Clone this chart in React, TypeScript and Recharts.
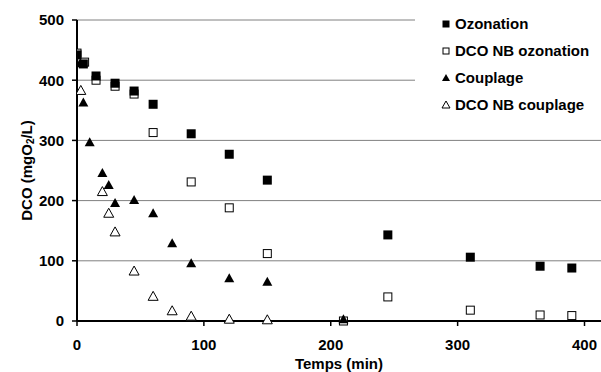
import { ScatterChart, Scatter, XAxis, YAxis, CartesianGrid, Legend } from "recharts";

// Temps (min) / DCO (mgO2/L)
const OZ_T = [0, 5, 15, 30, 45, 60, 90, 120, 150, 245, 310, 365, 390];
const OZ_DCO = [442, 427, 407, 395, 382, 360, 311, 277, 234, 143, 106, 91, 88];
const NBOZ_T = [0, 6, 15, 30, 45, 60, 90, 120, 150, 210, 245, 310, 365, 390];
const NBOZ_DCO = [445, 430, 400, 390, 377, 313, 231, 188, 112, 0, 40, 18, 10, 9];
const CP_T = [0, 5, 10, 20, 25, 30, 45, 60, 75, 90, 120, 150, 210];
const CP_DCO = [428, 363, 297, 246, 226, 196, 201, 179, 129, 96, 71, 65, 3];
const NBCP_T = [3, 20, 25, 30, 45, 60, 75, 90, 120, 150];
const NBCP_DCO = [383, 215, 179, 148, 83, 41, 17, 8, 3, 2];

const X_TICKS = [0, 100, 200, 300, 400];
const Y_TICKS = [0, 100, 200, 300, 400, 500];

const FONT = "'Liberation Sans', Arial, sans-serif";

const toPoints = (t: number[], v: number[]) => t.map((x, i) => ({ t: x, v: v[i] }));

type Kind = "square" | "openSquare" | "triangle" | "openTriangle";

const SERIES: { name: string; kind: Kind; data: { t: number; v: number }[] }[] = [
  { name: "Ozonation", kind: "square", data: toPoints(OZ_T, OZ_DCO) },
  { name: "DCO NB ozonation", kind: "openSquare", data: toPoints(NBOZ_T, NBOZ_DCO) },
  { name: "Couplage", kind: "triangle", data: toPoints(CP_T, CP_DCO) },
  { name: "DCO NB couplage", kind: "openTriangle", data: toPoints(NBCP_T, NBCP_DCO) },
];

// draw the open markers first so the filled ones sit on top
const DRAW_ORDER = [3, 1, 2, 0];

function Marker({ cx, cy, kind, r = 4.5 }: { cx: number; cy: number; kind: Kind; r?: number }) {
  if (kind === "square") {
    return <rect x={cx - r} y={cy - r} width={r * 2} height={r * 2} fill="#000" />;
  }
  if (kind === "openSquare") {
    return (
      <rect x={cx - r + 0.5} y={cy - r + 0.5} width={r * 2 - 1} height={r * 2 - 1} fill="#fff" stroke="#000" strokeWidth={1} />
    );
  }
  const pts = `${cx},${cy - r - 0.5} ${cx + r + 0.5},${cy + r - 0.5} ${cx - r - 0.5},${cy + r - 0.5}`;
  if (kind === "triangle") return <polygon points={pts} fill="#000" />;
  return <polygon points={pts} fill="#fff" stroke="#000" strokeWidth={1} />;
}

function LegendBox() {
  return (
    <div style={{ background: "#fff", width: 186, height: 116, paddingTop: 10, boxSizing: "border-box" }}>
      {SERIES.map((s) => (
        <div key={s.name} style={{ display: "flex", alignItems: "center", height: 27, fontFamily: FONT, fontWeight: 700, fontSize: 15, color: "#000" }}>
          <svg width={40} height={14}>
            <Marker cx={31} cy={7} kind={s.kind} r={3.5} />
          </svg>
          <span>{s.name}</span>
        </div>
      ))}
    </div>
  );
}

const tickStyle = { fontSize: 15, fontWeight: 700, fill: "#000", fontFamily: FONT };

export default function App() {
  return (
    <div style={{ position: "fixed", left: 0, top: 0, width: 601, height: 372, background: "#fff", fontFamily: FONT }}>
      <ScatterChart width={601} height={372} margin={{ top: 20, right: 0, bottom: 0, left: 0 }}>
        <CartesianGrid vertical={false} stroke="#808080" strokeWidth={1} />
        <XAxis
          type="number"
          dataKey="t"
          domain={[0, 413]}
          ticks={X_TICKS}
          height={51}
          tick={tickStyle}
          tickSize={5}
          tickMargin={13}
          axisLine={{ stroke: "#000", strokeWidth: 2 }}
          tickLine={{ stroke: "#000", strokeWidth: 1.5 }}
          allowDataOverflow
          label={{
            value: "Temps (min)",
            position: "insideBottom",
            offset: 3,
            style: { fontSize: 15, fontWeight: 700, fill: "#000", fontFamily: FONT },
          }}
        />
        <YAxis
          type="number"
          dataKey="v"
          domain={[0, 500]}
          ticks={Y_TICKS}
          width={77}
          tick={tickStyle}
          tickSize={5}
          tickMargin={8}
          axisLine={{ stroke: "#000", strokeWidth: 2 }}
          tickLine={{ stroke: "#000", strokeWidth: 1.5 }}
          label={{
            content: (props: any) => {
              const vb = props.viewBox || { y: 20, height: 301 };
              const cy = vb.y + vb.height / 2;
              const cx = 26;
              return (
                <text
                  x={cx}
                  y={cy}
                  transform={`rotate(-90 ${cx} ${cy})`}
                  textAnchor="middle"
                  dominantBaseline="central"
                  style={{ fontSize: 15, fontWeight: 700, fill: "#000", fontFamily: FONT }}
                >
                  DCO (mgO
                  <tspan fontSize={10} dy={4}>2</tspan>
                  <tspan dy={-4}>/L)</tspan>
                </text>
              );
            },
          }}
        />
        <Legend
          layout="horizontal"
          align="center"
          verticalAlign="middle"
          content={() => <LegendBox />}
          wrapperStyle={{ position: "absolute", top: 0, left: 415, width: 186, height: 116, margin: 0 }}
        />
        {DRAW_ORDER.map((i) => {
          const s = SERIES[i];
          return (
            <Scatter
              key={s.name}
              name={s.name}
              data={s.data}
              isAnimationActive={false}
              shape={(p: any) => <Marker cx={p.cx} cy={p.cy} kind={s.kind} />}
            />
          );
        })}
      </ScatterChart>
    </div>
  );
}
